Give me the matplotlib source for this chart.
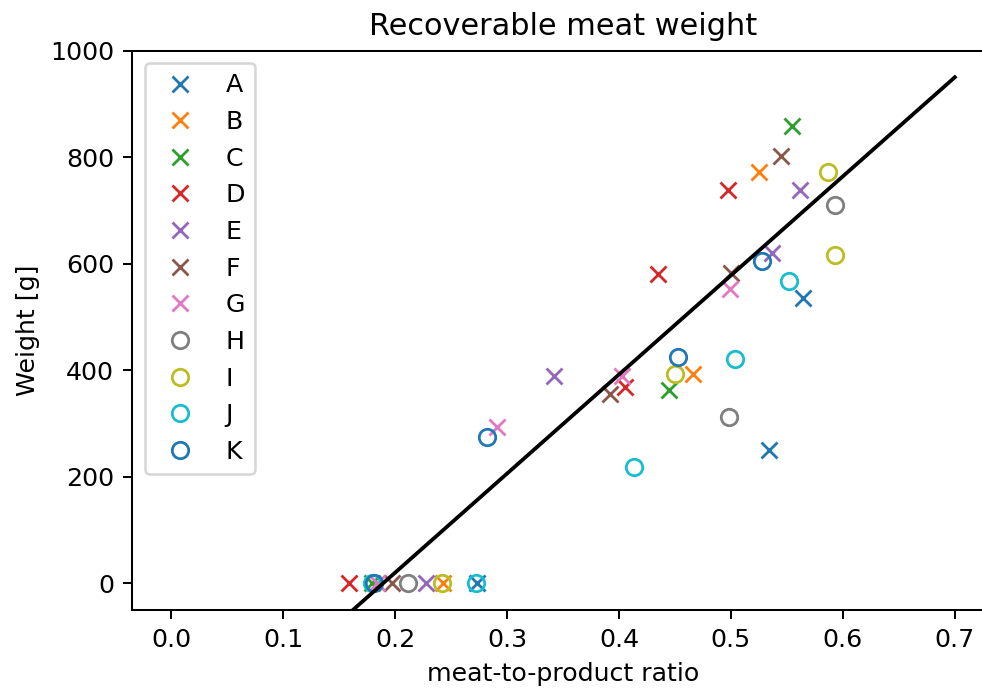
import numpy as np
import matplotlib.pyplot as plt

# series (meat-to-product ratio, weight in g)
labels = ["A", "B", "C", "D", "E", "F", "G", "H", "I", "J", "K"]
markers = ["x", "x", "x", "x", "x", "x", "x", "o", "o", "o", "o"]

ratio = {
    "A": [0.5645, 0.534, 0.273],
    "B": [0.525, 0.466, 0.243],
    "C": [0.555, 0.445, 0.179],
    "D": [0.497, 0.435, 0.405, 0.159],
    "E": [0.562, 0.537, 0.342, 0.228],
    "F": [0.545, 0.500, 0.392, 0.197],
    "G": [0.499, 0.403, 0.291, 0.184],
    "H": [0.593, 0.498, 0.212],
    "I": [0.587, 0.593, 0.450, 0.242],
    "J": [0.552, 0.5035, 0.413, 0.272, 0.179],
    "K": [0.528, 0.453, 0.282, 0.181],
}
weight = {
    "A": [536, 250, 0],
    "B": [773, 393, 0],
    "C": [859, 363, 0],
    "D": [738, 581, 369, 0],
    "E": [738, 620, 389, 0],
    "F": [803, 583, 356, 0],
    "G": [553, 390, 294, 0],
    "H": [711, 313, 0],
    "I": [773, 617, 393, 0],
    "J": [567, 422, 219, 0, 0],
    "K": [606, 425, 275, 0],
}

# fitted line
fit_slope = 1860
fit_intercept = -352
fit_x = np.array([0.0, 0.7])

dpi = 182
fig = plt.figure(figsize=(982 / dpi, 689 / dpi), dpi=dpi)
ax = fig.add_axes([0.1344, 0.1147, 0.8778, 0.8118])

colors = plt.rcParams['axes.prop_cycle'].by_key()['color']
for i, (lab, m) in enumerate(zip(labels, markers)):
    c = colors[i % len(colors)]
    if m == "o":
        ax.plot(ratio[lab], weight[lab], linestyle='none', marker=m,
                mfc='none', mec=c, mew=1.1, ms=6.5, label=lab)
    else:
        ax.plot(ratio[lab], weight[lab], linestyle='none', marker=m,
                color=c, mew=1.1, ms=6.5, label=lab)

ax.plot(fit_x, fit_slope * fit_x + fit_intercept, color='k')

ax.set_ylim(-50, 1000)
ax.set_title("Recoverable meat weight")
ax.set_xlabel("meat-to-product ratio")
ax.set_ylabel("Weight [g]")
ax.legend(loc='upper left')

fig.savefig("out.png", dpi=dpi)
